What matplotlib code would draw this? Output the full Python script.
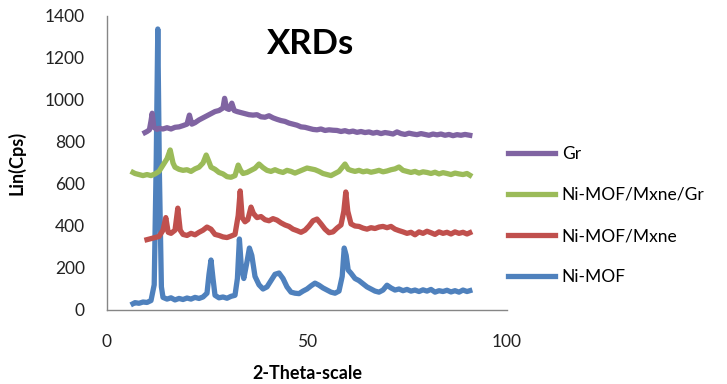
import numpy as np
import matplotlib
matplotlib.use('Agg')
import matplotlib.pyplot as plt

# ── DATA ─────────────────────────────────────────────────────────────────────
ni_mof_x = [6.5, 7, 8, 9, 10, 11, 11.8, 12.3, 12.7, 13.1, 13.6, 14, 15, 16, 17, 18, 19, 20,
            21, 22, 23, 24, 25, 25.5, 26, 26.5, 27, 28, 29, 30, 31, 32, 32.6, 33.1, 33.6,
            34.2, 35, 35.6, 36.2, 37, 38, 39, 40, 41, 42, 43, 44, 45, 46, 47, 48, 49, 50,
            51, 52, 53, 54, 55, 56, 57, 58, 58.8, 59.3, 59.8, 60.3, 61, 62, 63, 64, 65, 66,
            67, 68, 69, 70, 71, 72, 73, 74, 75, 76, 77, 78, 79, 80, 81, 82, 83, 84, 85, 86,
            87, 88, 89, 90, 90.7]
ni_mof_y = [30, 35, 32, 38, 36, 45, 120, 700, 1338, 650, 110, 60, 52, 58, 48, 55, 50, 57,
            52, 60, 55, 62, 80, 170, 238, 150, 70, 58, 62, 56, 65, 70, 150, 338, 200,
            150, 230, 295, 260, 160, 120, 100, 110, 140, 170, 176, 150, 110, 85, 80, 78, 90, 100,
            115, 128, 118, 105, 95, 85, 80, 90, 160, 295, 260, 190, 175, 150, 140, 125, 110, 100,
            90, 85, 95, 118, 105, 95, 100, 92, 98, 90, 95, 88, 96, 90, 98, 85, 92, 88, 94, 86,
            92, 85, 95, 88, 92]

mxne_x = [10, 11, 12, 13, 14, 14.7, 15.3, 16, 17, 17.7, 18.3, 19, 20, 21, 22, 23, 24, 25, 26,
          27, 28, 29, 30, 31, 32, 32.8, 33.3, 33.8, 34.5, 35.2, 36, 36.6, 37.5, 38.5, 39.5,
          40.5, 41.5, 42.5, 43.5, 44.5, 45.5, 46.5, 47.5, 48.5, 49.5, 50.5, 51.5, 52.5, 53.5,
          54.5, 55.5, 56.5, 57.5, 58.5, 59.2, 59.7, 60.2, 61, 62, 63, 64, 65, 66, 67, 68, 69,
          70, 71, 72, 73, 74, 75, 76, 77, 78, 79, 80, 81, 82, 83, 84, 85, 86, 87, 88, 89, 90,
          90.7]
mxne_y = [335, 340, 345, 350, 380, 440, 370, 365, 380, 485, 380, 360, 355, 365, 358, 370, 380,
          395, 385, 360, 355, 348, 345, 352, 360, 450, 567, 440, 420, 430, 490, 460, 440, 445,
          430, 425, 435, 428, 415, 405, 398, 385, 378, 370, 380, 400, 425, 433, 410, 385, 368,
          372, 390, 405, 470, 562, 470, 410, 400, 398, 390, 385, 392, 388, 395, 398, 392, 398,
          385, 378, 372, 365, 370, 358, 372, 365, 375, 368, 360, 372, 365, 370, 362, 372, 365,
          370, 362, 368]

mxne_gr_x = [6.5, 7, 8, 9, 10, 11, 12, 13, 14, 15, 15.8, 16.5, 17, 18, 19, 20, 21, 22, 23, 24,
             24.8, 25.5, 26, 27, 28, 29, 30, 31, 32, 32.8, 33.4, 34, 35, 36, 37, 38, 39, 40,
             41, 42, 43, 44, 45, 46, 47, 48, 49, 50, 51, 52, 53, 54, 55, 56, 57, 58, 59.5,
             60.3, 61, 62, 63, 64, 65, 66, 67, 68, 69, 70, 71, 72, 73, 74, 75, 76, 77, 78, 79,
             80, 81, 82, 83, 84, 85, 86, 87, 88, 89, 90, 90.7]
mxne_gr_y = [655, 650, 645, 640, 645, 640, 648, 660, 690, 720, 762, 700, 680, 670, 665, 668,
             660, 672, 680, 700, 738, 705, 680, 670, 655, 648, 635, 632, 640, 690, 665, 650,
             655, 665, 675, 695, 678, 665, 660, 668, 660, 655, 665, 660, 652, 660, 668, 676,
             672, 668, 660, 650, 645, 640, 650, 660, 695, 670, 665, 660, 665, 658, 662, 656,
             660, 665, 658, 662, 668, 672, 681, 665, 660, 655, 660, 652, 658, 655, 650, 656,
             648, 654, 650, 645, 652, 648, 645, 650, 642]

gr_x = [9.5, 10, 10.6, 11, 11.3, 11.7, 12.5, 13, 14, 15, 16, 17, 18, 19, 20, 20.6, 21.2, 22,
        23, 24, 25, 26, 27, 28, 29, 29.4, 29.9, 30.5, 31.2, 31.8, 32.5, 33.5, 34.5, 35.5,
        36.5, 37.5, 38.5, 39.5, 40.5, 41.5, 42.5, 43.5, 44.5, 45.5, 46.5, 47.5, 48.5, 49.5,
        50.5, 51.5, 52.5, 53.5, 54.5, 55.5, 56.5, 57.5, 58.5, 59.5, 60.5, 61.5, 62.5, 63.5,
        64.5, 65.5, 66.5, 67.5, 68.5, 69.5, 70.5, 71.5, 72.5, 73.5, 74.5, 75.5, 76.5, 77.5,
        78.5, 79.5, 80.5, 81.5, 82.5, 83.5, 84.5, 85.5, 86.5, 87.5, 88.5, 89.5, 90.7]
gr_y = [845, 850, 858, 900, 937, 870, 860, 865, 862, 868, 862, 870, 872, 878, 885, 928, 885,
        892, 905, 915, 925, 935, 945, 950, 962, 1008, 960, 955, 985, 950, 945, 940, 935, 930,
        928, 930, 920, 918, 925, 915, 908, 902, 898, 890, 885, 880, 872, 870, 865, 860, 858,
        862, 855, 858, 856, 855, 850, 854, 848, 852, 846, 850, 845, 848, 842, 846, 840, 845,
        842, 838, 848, 840, 836, 842, 838, 835, 840, 836, 832, 838, 834, 838, 832, 836, 830,
        835, 832, 836, 832]

SERIES = [
    ("Gr",             gr_x,      gr_y,      "#8064A2"),
    ("Ni-MOF/Mxne/Gr", mxne_gr_x, mxne_gr_y, "#9BBB59"),
    ("Ni-MOF/Mxne",    mxne_x,    mxne_y,    "#C0504D"),
    ("Ni-MOF",         ni_mof_x,  ni_mof_y,  "#4F81BD"),
]

plt.rcParams['font.family'] = ['Lato', 'DejaVu Sans']

fig = plt.figure(figsize=(7.27, 3.84), dpi=100)
ax = fig.add_axes([107 / 727, 1 - 310 / 384, 400 / 727, 294 / 384])

# draw bottom series first so the tall blue peak sits on top
for label, xs, ys, color in SERIES[::-1]:
    ax.plot(xs, ys, color=color, lw=3.8, solid_joinstyle='round', label=label)

ax.set_xlim(0, 100)
ax.set_ylim(0, 1400)
ax.set_xticks([0, 50, 100])
ax.set_yticks(range(0, 1401, 200))
ax.tick_params(length=0, labelsize=12.5, colors='#222222')
ax.tick_params(axis='y', pad=16)
ax.tick_params(axis='x', pad=17)

for side in ('top', 'right'):
    ax.spines[side].set_visible(False)
for side in ('left', 'bottom'):
    ax.spines[side].set_color('#868686')
    ax.spines[side].set_linewidth(1.0)

ax.set_xlabel("2-Theta-scale", fontsize=13, fontweight='bold', labelpad=11)
ax.set_ylabel("Lin(Cps)", fontsize=13, fontweight='bold', labelpad=14)
ax.text(0.51, 0.905, "XRDs", transform=ax.transAxes, ha='center', va='center',
        fontsize=25, fontweight='bold')

handles, labels = ax.get_legend_handles_labels()
order = [labels.index(s[0]) for s in SERIES]
fig.legend([handles[i] for i in order], [labels[i] for i in order],
           loc='center left', bbox_to_anchor=(508 / 727, 1 - 215.5 / 384),
           frameon=False, fontsize=12.5, handlelength=2.7, handletextpad=0.4,
           labelspacing=1.45, borderpad=0, borderaxespad=0)

fig.savefig("out.png", dpi=100)
